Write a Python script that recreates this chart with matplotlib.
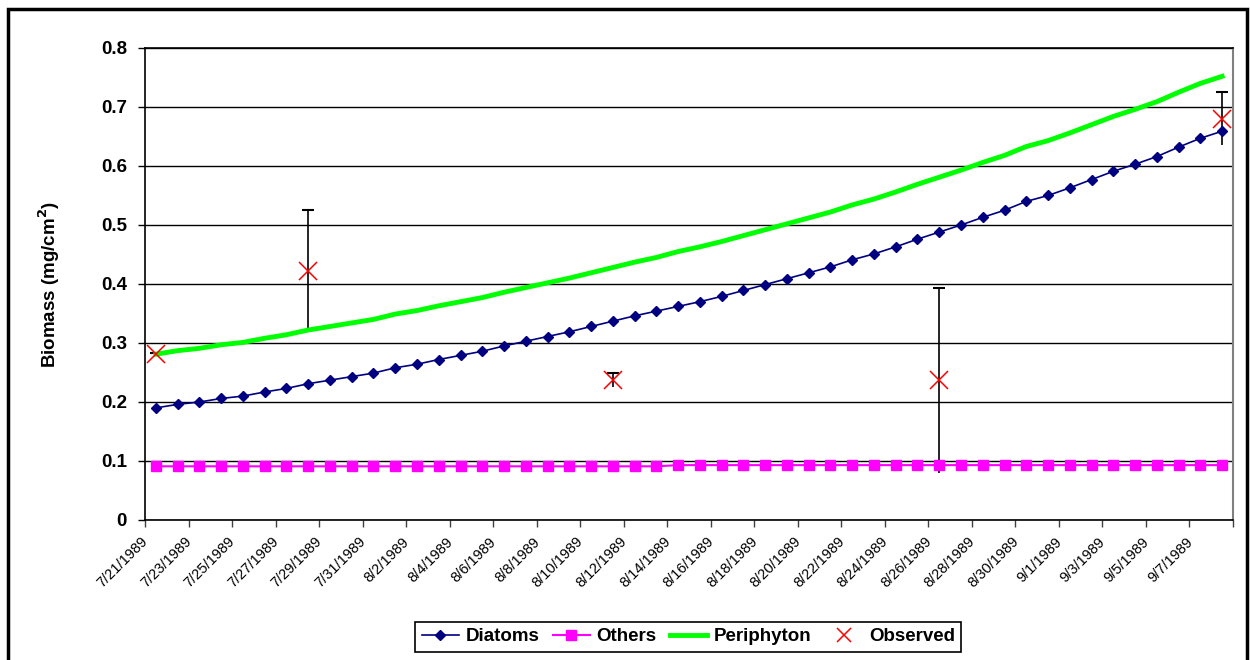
import matplotlib
matplotlib.use("Agg")
import matplotlib.pyplot as plt
import matplotlib.transforms as mtransforms
from matplotlib.patches import Rectangle
import pandas as pd

plt.rcParams['font.family'] = ['Liberation Sans', 'DejaVu Sans']

# categories (one per day)
dates = pd.date_range('1989-07-21', '1989-09-08', freq='D')
labels = [f"{d.month}/{d.day}/{d.year}" for d in dates]

diatoms = [0.190, 0.196, 0.200, 0.206, 0.210, 0.217, 0.223, 0.231, 0.237, 0.243,
           0.249, 0.258, 0.264, 0.272, 0.279, 0.286, 0.295, 0.303, 0.311, 0.319,
           0.328, 0.337, 0.346, 0.354, 0.362, 0.370, 0.379, 0.389, 0.399, 0.409,
           0.419, 0.429, 0.441, 0.451, 0.463, 0.476, 0.488, 0.500, 0.513, 0.525,
           0.540, 0.550, 0.563, 0.577, 0.591, 0.603, 0.616, 0.632, 0.647, 0.659]
others = [0.091] * 24 + [0.093] * 26
periphyton = [0.281, 0.287, 0.291, 0.297, 0.301, 0.308, 0.314, 0.322, 0.328, 0.334,
              0.340, 0.349, 0.355, 0.363, 0.370, 0.377, 0.386, 0.394, 0.402, 0.410,
              0.419, 0.428, 0.437, 0.445, 0.455, 0.463, 0.472, 0.482, 0.492, 0.502,
              0.512, 0.522, 0.534, 0.544, 0.556, 0.569, 0.581, 0.593, 0.606, 0.618,
              0.633, 0.643, 0.656, 0.670, 0.684, 0.696, 0.709, 0.725, 0.740, 0.752]

# observed samples
obs_dates = ['1989-07-21', '1989-07-28', '1989-08-11', '1989-08-26', '1989-09-08']
obs_vals = [0.281, 0.422, 0.238, 0.237, 0.680]
obs_err = [0.002, 0.103, 0.012, 0.157, 0.045]

x = list(range(len(dates)))
obs_x = [list(dates).index(pd.Timestamp(d)) for d in obs_dates]

fig = plt.figure(figsize=(12.5, 6.6), dpi=100)
ax = fig.add_axes([145 / 1250, 1 - 520 / 660, (1233 - 145) / 1250, (520 - 48) / 660])

# gridlines
ax.set_axisbelow(True)
ax.yaxis.grid(True, color='black', linewidth=1)

# observed error bars (cap on top only)
ax.vlines(obs_x, [v - e for v, e in zip(obs_vals, obs_err)],
          [v + e for v, e in zip(obs_vals, obs_err)], color='black', linewidth=1.2, zorder=2)
ax.plot(obs_x, [v + e for v, e in zip(obs_vals, obs_err)], linestyle='none',
        marker='_', markersize=8, markeredgewidth=1.5, color='black', zorder=2)

ax.plot(x, diatoms, color='#000080', linewidth=1.2, marker='D', markersize=5,
        label='Diatoms', zorder=4)
ax.plot(x, others, color='#FF00FF', linewidth=1.5, marker='s', markersize=6.5,
        label='Others', zorder=4)
ax.plot(x, periphyton, color='#00FF00', linewidth=3.5, label='Periphyton', zorder=3)
ax.plot(obs_x, obs_vals, linestyle='none', marker='x', markersize=13,
        markeredgewidth=1.1, color='#FF0000', label='Observed', zorder=5)

ax.set_xlim(-0.5, len(x) - 0.5)
ax.set_ylim(0, 0.8)
ax.set_yticks([i / 10 for i in range(9)])
ax.set_yticklabels(['0'] + [f"{i / 10:.1f}" for i in range(1, 9)],
                   fontsize=13.5, fontweight='bold')
ax.tick_params(axis='y', length=5, width=1, direction='out', pad=8)

# x ticks: labels every 2 days, tick marks on category boundaries
ax.set_xticks(x[::2])
ax.set_xticklabels(labels[::2], rotation=45, ha='right', va='center',
                   rotation_mode='anchor', fontsize=10.5)
ax.tick_params(axis='x', which='major', length=0, pad=14)
ax.set_xticks([i - 0.5 for i in range(0, len(x) + 1, 2)], minor=True)
ax.tick_params(axis='x', which='minor', length=5, width=1, color='#404040')
offset = mtransforms.ScaledTranslation(-10 / 100, 0, fig.dpi_scale_trans)
for lbl in ax.get_xticklabels():
    lbl.set_transform(lbl.get_transform() + offset)

ax.set_ylabel('Biomass (mg/cm$^\\mathbf{2}$)', fontsize=13.5, fontweight='bold', labelpad=28)

for s in ['left', 'bottom', 'top']:
    ax.spines[s].set_color('black')
    ax.spines[s].set_linewidth(1.2)
ax.spines['right'].set_color('#808080')
ax.spines['right'].set_linewidth(1.5)

leg = fig.legend(loc='lower left', bbox_to_anchor=(415 / 1250, 1 - 652 / 660), ncol=4,
                 frameon=True, fancybox=False, edgecolor='black', framealpha=1,
                 prop={'weight': 'bold', 'size': 13.5}, handlelength=2.0,
                 columnspacing=0.7, handletextpad=0.35, borderpad=0.35,
                 borderaxespad=0)
leg.get_frame().set_linewidth(1.2)
leg.legend_handles[3].set_markersize(10)

# outer chart border
fig.patches.append(Rectangle((8 / 1250, -0.05), (1247 - 8) / 1250, 1.05 - 9 / 660,
                             transform=fig.transFigure, fill=False,
                             edgecolor='black', linewidth=2.5))

fig.savefig('out.png', dpi=100)
